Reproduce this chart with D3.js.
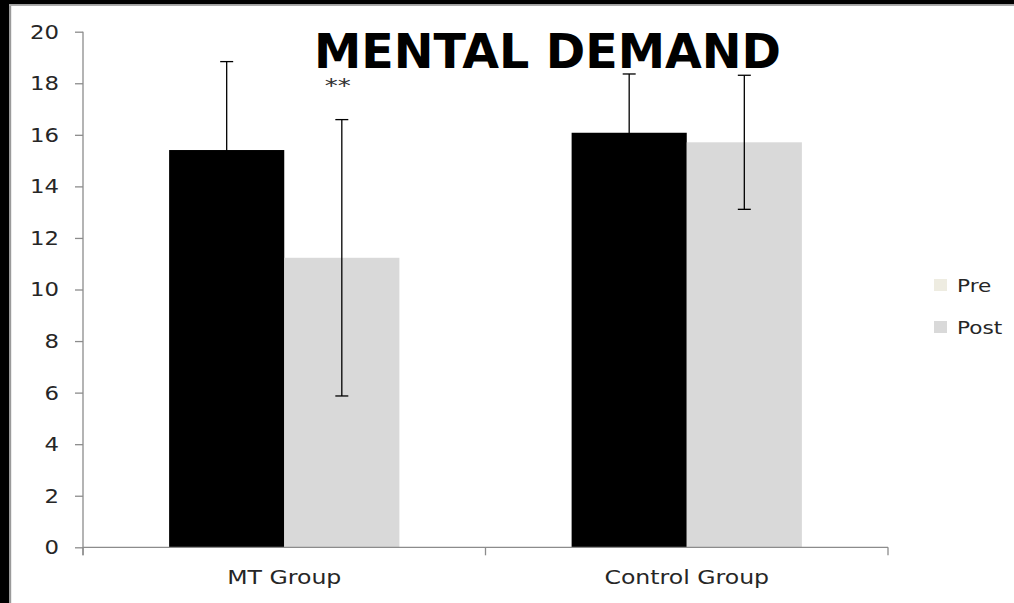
<!DOCTYPE html>
<html>
<head>
<meta charset="utf-8">
<script src="https://cdn.jsdelivr.net/npm/d3@7"></script>
<style>
  html, body { margin: 0; padding: 0; background: #fff; }
  svg { display: block; }
</style>
</head>
<body>
<svg id="chart" width="1014" height="603"></svg>
<script>
// Chart data
const categories = ["MT Group", "Control Group"];
const seriesNames = ["Pre", "Post"];
const preValues = [15.41, 16.08];
const postValues = [11.23, 15.71];
const preErrors = [3.43, 2.28];
const postErrors = [5.36, 2.6];
const yTicks = [0, 2, 4, 6, 8, 10, 12, 14, 16, 18, 20];
const significance = ["**", ""];
const titleText = "MENTAL DEMAND";

// Bar fills and legend swatches (the Pre bars are drawn solid black)
const barFill = { Pre: "#000000", Post: "#d9d9d9" };
const legendFill = { Pre: "#eeece1", Post: "#d9d9d9" };

const svg = d3.select("#chart");
const W = 1014, H = 603;
const plot = { left: 83, right: 888, top: 31.7, bottom: 547.3 };
const FONT = "'DejaVu Sans', Verdana, sans-serif";
const TEXT = "#262626";
const AXIS = "#8c8c8c";

// widen glyphs a little, as the labels are set in a broad face
function stretch(sel, k) {
  sel.each(function () {
    const w = this.getComputedTextLength();
    d3.select(this).attr("textLength", w * k).attr("lengthAdjust", "spacingAndGlyphs");
  });
}

svg.append("rect").attr("width", W).attr("height", H).attr("fill", "#fff");

// frame: dark band along top and left edges
svg.append("rect").attr("x", 0).attr("y", 0).attr("width", W).attr("height", 4.3).attr("fill", "#000");
svg.append("rect").attr("x", 0).attr("y", 4.3).attr("width", W).attr("height", 1.5).attr("fill", "#9a9a9a");
svg.append("rect").attr("x", 0).attr("y", 0).attr("width", 9).attr("height", H).attr("fill", "#000");
svg.append("rect").attr("x", 9).attr("y", 5.8).attr("width", 2.2).attr("height", H).attr("fill", "#9a9a9a");

// scales
const y = d3.scaleLinear().domain([0, 20]).range([plot.bottom, plot.top]);
const x0 = d3.scaleBand().domain(categories).range([plot.left, plot.right]).padding(0);
const x1 = d3.scaleBand().domain(seriesNames).range([0, x0.bandwidth()])
  .paddingInner(0).paddingOuter(0.748);

const rows = categories.map((c, i) => ({
  cat: c,
  sig: significance[i],
  items: [
    { s: "Pre", v: preValues[i], e: preErrors[i] },
    { s: "Post", v: postValues[i], e: postErrors[i] }
  ]
}));

// bars
const groups = svg.append("g").selectAll("g").data(rows).join("g")
  .attr("transform", d => `translate(${x0(d.cat)},0)`);

groups.selectAll("rect").data(d => d.items).join("rect")
  .attr("x", d => x1(d.s))
  .attr("y", d => y(d.v))
  .attr("width", x1.bandwidth())
  .attr("height", d => y(0) - y(d.v))
  .attr("fill", d => barFill[d.s]);

// error bars
const capW = 13;
const eb = groups.selectAll("g.err").data(d => d.items).join("g").attr("class", "err")
  .attr("stroke", "#000").attr("stroke-width", 1.3);
eb.append("line")
  .attr("x1", d => x1(d.s) + x1.bandwidth() / 2).attr("x2", d => x1(d.s) + x1.bandwidth() / 2)
  .attr("y1", d => y(d.v + d.e)).attr("y2", d => y(d.v - d.e));
eb.append("line")
  .attr("x1", d => x1(d.s) + x1.bandwidth() / 2 - capW / 2).attr("x2", d => x1(d.s) + x1.bandwidth() / 2 + capW / 2)
  .attr("y1", d => y(d.v + d.e)).attr("y2", d => y(d.v + d.e));
eb.append("line")
  .attr("x1", d => x1(d.s) + x1.bandwidth() / 2 - capW / 2).attr("x2", d => x1(d.s) + x1.bandwidth() / 2 + capW / 2)
  .attr("y1", d => y(d.v - d.e)).attr("y2", d => y(d.v - d.e));

// significance markers above the Post error bar
groups.append("text")
  .attr("x", x1("Post") + x1.bandwidth() / 2 - 4)
  .attr("y", d => y(d.items[1].v + d.items[1].e) - 28)
  .attr("text-anchor", "middle")
  .attr("font-family", FONT).attr("font-size", 20).attr("fill", "#333")
  .text(d => d.sig)
  .filter(d => d.sig).call(stretch, 1.3);

// y axis
const yAxis = svg.append("g").attr("transform", `translate(${plot.left},0)`)
  .call(d3.axisLeft(y).tickValues(yTicks).tickSize(8).tickSizeOuter(0).tickPadding(16));
yAxis.select(".domain").remove();
yAxis.selectAll(".tick line").attr("stroke", AXIS).attr("stroke-width", 1.3);
yAxis.selectAll(".tick text").attr("font-family", FONT).attr("font-size", 20)
  .attr("fill", TEXT).call(stretch, 1.14);
svg.append("line").attr("x1", plot.left).attr("x2", plot.left)
  .attr("y1", plot.top).attr("y2", plot.bottom + 8)
  .attr("stroke", AXIS).attr("stroke-width", 1.3);

// x axis: baseline, boundary ticks, centered category labels
svg.append("line").attr("x1", plot.left).attr("x2", plot.right)
  .attr("y1", plot.bottom).attr("y2", plot.bottom)
  .attr("stroke", AXIS).attr("stroke-width", 1.3);
const edges = categories.map(c => x0(c)).concat([x0(categories[categories.length - 1]) + x0.bandwidth()]);
svg.append("g").selectAll("line").data(edges).join("line")
  .attr("x1", d => d).attr("x2", d => d)
  .attr("y1", plot.bottom).attr("y2", plot.bottom + 8)
  .attr("stroke", AXIS).attr("stroke-width", 1.3);
const xAxis = svg.append("g").attr("transform", `translate(0,${plot.bottom})`)
  .call(d3.axisBottom(x0).tickSize(0).tickPadding(23));
xAxis.select(".domain").remove();
xAxis.selectAll(".tick text").attr("font-family", FONT).attr("font-size", 20)
  .attr("fill", TEXT).call(stretch, 1.18);

// title
svg.append("text")
  .attr("x", 547.5).attr("y", 68)
  .attr("text-anchor", "middle")
  .attr("font-family", FONT).attr("font-weight", "bold").attr("font-size", 48)
  .attr("fill", "#000")
  .text(titleText)
  .call(stretch, 0.99);

// legend
const legend = svg.append("g").attr("transform", "translate(934,279)");
const li = legend.selectAll("g").data(seriesNames).join("g")
  .attr("transform", (d, i) => `translate(0,${i * 42})`);
li.append("rect").attr("width", 13).attr("height", 12).attr("fill", d => legendFill[d]);
li.append("text").attr("x", 23).attr("y", 12.5)
  .attr("font-family", FONT).attr("font-size", 18).attr("fill", TEXT)
  .text(d => d)
  .call(stretch, 1.2);
</script>
</body>
</html>
